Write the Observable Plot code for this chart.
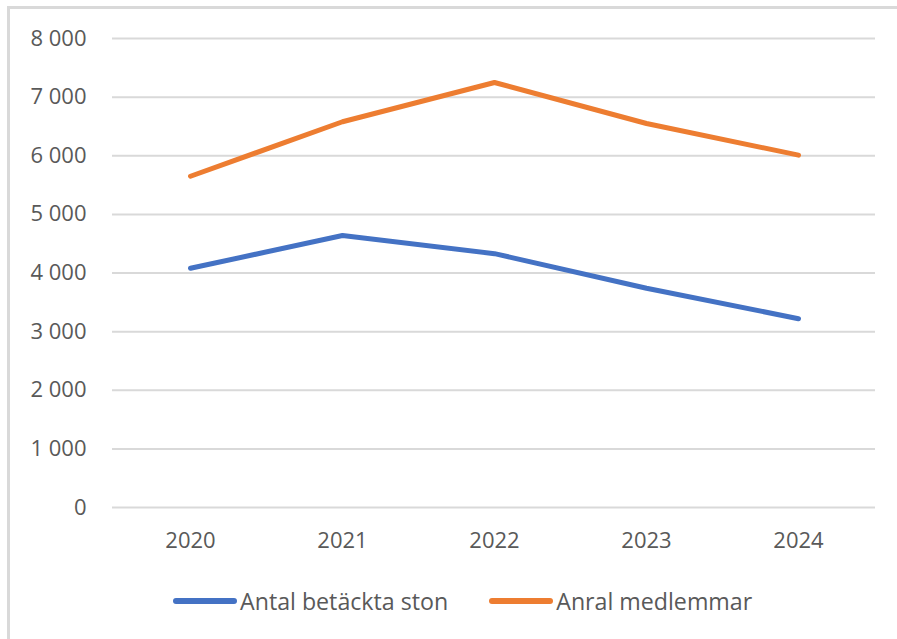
<!DOCTYPE html>
<html>
<head>
<meta charset="utf-8">
<script src="https://cdn.jsdelivr.net/npm/d3@7"></script>
<script src="https://cdn.jsdelivr.net/npm/@observablehq/plot@0.6"></script>
<style>
  body { margin: 0; background: #fff; }
  #wrap { position: relative; width: 897px; height: 639px; overflow: hidden; font-family: "Open Sans", sans-serif; color: #595959; }
  #frame { position: absolute; left: 7px; top: 6px; width: 1000px; height: 1000px; border-top: 3px solid #d9d9d9; border-left: 3px solid #d9d9d9; box-sizing: border-box; }
  #chart { position: absolute; left: 0; top: 0; }
  #legend { position: absolute; left: 173px; top: 585px; display: flex; align-items: center; font-size: 23.2px; white-space: nowrap; }
  .item { display: flex; align-items: center; margin-right: 41px; }
  .sw { width: 64px; height: 6px; border-radius: 3px; margin-right: 3px; }
</style>
</head>
<body>
<div id="wrap">
  <div id="frame"></div>
  <div id="chart"></div>
  <div id="legend"></div>
</div>
<script>
const years = ["2020", "2021", "2022", "2023", "2024"];
const seriesNames = ["Antal betäckta ston", "Anral medlemmar"];
const seriesColors = ["#4472C4", "#ED7D31"];
const betacktaSton = [4080, 4640, 4330, 3740, 3220];
const medlemmar = [5650, 6580, 7250, 6550, 6010];
const yTicks = [0, 1000, 2000, 3000, 4000, 5000, 6000, 7000, 8000];

const data = [];
years.forEach((y, i) => {
  data.push({year: y, value: betacktaSton[i], series: seriesNames[0]});
});
years.forEach((y, i) => {
  data.push({year: y, value: medlemmar[i], series: seriesNames[1]});
});

const locale = d3.formatLocale({decimal: ",", thousands: "\u00a0", grouping: [3], currency: ["", " kr"]});
const fmt = locale.format(",d");

const chart = Plot.plot({
  width: 897,
  height: 560,
  marginLeft: 112,
  marginRight: 22,
  marginTop: 38,
  marginBottom: 53,
  style: {fontFamily: "'Open Sans', sans-serif", fontSize: "22px", color: "#595959", background: "transparent", overflow: "visible"},
  x: {type: "point", domain: years, padding: 0.5, label: null},
  y: {domain: [0, 8000], label: null},
  color: {domain: seriesNames, range: seriesColors},
  marks: [
    Plot.ruleY(yTicks, {stroke: "#d9d9d9", strokeWidth: 2}),
    Plot.axisY({ticks: yTicks, tickFormat: fmt, tickSize: 0, tickPadding: 26, label: null}),
    Plot.axisX({tickSize: 0, tickPadding: 25, label: null}),
    Plot.line(data, {x: "year", y: "value", z: "series", stroke: "series", strokeWidth: 5, strokeLinecap: "round", strokeLinejoin: "round"})
  ]
});
document.getElementById("chart").appendChild(chart);

const legend = document.getElementById("legend");
seriesNames.forEach((name, i) => {
  const item = document.createElement("div");
  item.className = "item";
  const sw = document.createElement("span");
  sw.className = "sw";
  sw.style.background = seriesColors[i];
  const t = document.createElement("span");
  t.textContent = name;
  item.appendChild(sw);
  item.appendChild(t);
  legend.appendChild(item);
});
</script>
</body>
</html>
